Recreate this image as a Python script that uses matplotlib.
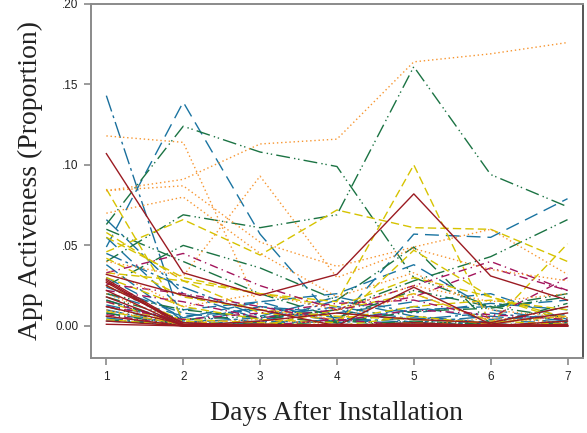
import matplotlib
matplotlib.use("Agg")
import matplotlib.pyplot as plt

days = [1, 2, 3, 4, 5, 6, 7]
y_ticks = [0.00, 0.05, 0.10, 0.15, 0.20]
y_tick_labels = ["0.00", ".05", ".10", ".15", ".20"]

# per-user daily activeness, grouped by line style
red_users = [
    [0.107, 0.033, 0.019, 0.032, 0.082, 0.031, 0.016],
    [0.032, 0.019, 0.010, 0.000, 0.024, 0.001, 0.008],
    [0.028, 0.000, 0.003, 0.008, 0.004, 0.002, 0.012],
    [0.029, 0.001, 0.000, 0.000, 0.001, 0.000, 0.000],
    [0.027, 0.000, 0.001, 0.000, 0.000, 0.000, 0.003],
    [0.025, 0.002, 0.000, 0.001, 0.000, 0.000, 0.000],
    [0.022, 0.000, 0.000, 0.000, 0.000, 0.001, 0.000],
    [0.018, 0.000, 0.000, 0.000, 0.002, 0.000, 0.000],
    [0.012, 0.001, 0.000, 0.000, 0.000, 0.000, 0.000],
    [0.006, 0.000, 0.000, 0.000, 0.000, 0.000, 0.000],
    [0.003, 0.000, 0.000, 0.000, 0.000, 0.000, 0.001],
    [0.001, 0.000, 0.001, 0.000, 0.000, 0.000, 0.000],
]

orange_users = [
    [0.084, 0.091, 0.113, 0.116, 0.164, 0.169, 0.176],
    [0.118, 0.114, 0.010, 0.004, 0.020, 0.003, 0.006],
    [0.084, 0.087, 0.052, 0.037, 0.049, 0.060, 0.032],
    [0.040, 0.031, 0.093, 0.030, 0.048, 0.035, 0.028],
    [0.070, 0.080, 0.045, 0.018, 0.033, 0.010, 0.005],
    [0.035, 0.012, 0.020, 0.010, 0.025, 0.015, 0.020],
    [0.020, 0.002, 0.004, 0.001, 0.000, 0.005, 0.002],
    [0.010, 0.000, 0.000, 0.000, 0.001, 0.000, 0.000],
    [0.006, 0.000, 0.000, 0.000, 0.000, 0.000, 0.000],
]

green_users = [
    [0.063, 0.124, 0.108, 0.099, 0.030, 0.012, 0.005],
    [0.040, 0.069, 0.061, 0.069, 0.161, 0.094, 0.074],
    [0.025, 0.050, 0.036, 0.016, 0.049, 0.001, 0.014],
    [0.020, 0.010, 0.005, 0.010, 0.028, 0.043, 0.066],
    [0.060, 0.040, 0.020, 0.005, 0.022, 0.012, 0.020],
    [0.018, 0.004, 0.006, 0.002, 0.009, 0.011, 0.018],
    [0.016, 0.001, 0.000, 0.003, 0.001, 0.000, 0.002],
    [0.012, 0.000, 0.002, 0.000, 0.003, 0.001, 0.001],
    [0.008, 0.000, 0.000, 0.000, 0.000, 0.000, 0.000],
    [0.004, 0.000, 0.000, 0.001, 0.000, 0.000, 0.000],
]

blue_dash_users = [
    [0.049, 0.139, 0.057, 0.002, 0.057, 0.055, 0.079],
    [0.030, 0.005, 0.015, 0.020, 0.038, 0.010, 0.003],
    [0.055, 0.010, 0.015, 0.002, 0.012, 0.004, 0.007],
    [0.038, 0.003, 0.012, 0.008, 0.015, 0.020, 0.004],
    [0.020, 0.006, 0.010, 0.003, 0.010, 0.012, 0.016],
    [0.013, 0.003, 0.001, 0.004, 0.001, 0.003, 0.002],
    [0.008, 0.001, 0.000, 0.001, 0.000, 0.000, 0.001],
    [0.003, 0.001, 0.000, 0.000, 0.000, 0.000, 0.000],
]

blue_dashdot_users = [
    [0.143, 0.000, 0.012, 0.005, 0.002, 0.001, 0.000],
    [0.066, 0.020, 0.004, 0.010, 0.002, 0.006, 0.002],
    [0.045, 0.024, 0.006, 0.018, 0.008, 0.014, 0.010],
    [0.024, 0.008, 0.002, 0.016, 0.006, 0.002, 0.012],
    [0.016, 0.002, 0.005, 0.012, 0.004, 0.008, 0.003],
    [0.010, 0.000, 0.003, 0.002, 0.005, 0.001, 0.000],
    [0.005, 0.000, 0.001, 0.000, 0.002, 0.001, 0.000],
]

yellow_users = [
    [0.046, 0.066, 0.044, 0.072, 0.061, 0.060, 0.040],
    [0.085, 0.004, 0.002, 0.000, 0.006, 0.001, 0.000],
    [0.055, 0.030, 0.020, 0.015, 0.100, 0.001, 0.051],
    [0.033, 0.028, 0.020, 0.012, 0.030, 0.018, 0.005],
    [0.030, 0.012, 0.004, 0.002, 0.047, 0.018, 0.003],
    [0.058, 0.028, 0.008, 0.004, 0.012, 0.016, 0.010],
    [0.042, 0.018, 0.010, 0.006, 0.004, 0.002, 0.006],
    [0.025, 0.003, 0.000, 0.010, 0.020, 0.003, 0.001],
    [0.015, 0.000, 0.001, 0.000, 0.002, 0.000, 0.000],
    [0.009, 0.001, 0.000, 0.000, 0.000, 0.000, 0.000],
    [0.004, 0.000, 0.000, 0.000, 0.000, 0.000, 0.001],
]

magenta_users = [
    [0.033, 0.045, 0.025, 0.010, 0.018, 0.036, 0.022],
    [0.022, 0.015, 0.005, 0.010, 0.025, 0.040, 0.022],
    [0.012, 0.004, 0.008, 0.014, 0.016, 0.005, 0.030],
    [0.026, 0.020, 0.012, 0.003, 0.010, 0.007, 0.004],
    [0.015, 0.002, 0.000, 0.004, 0.000, 0.001, 0.000],
    [0.007, 0.000, 0.001, 0.000, 0.000, 0.000, 0.000],
]

groups = [
    (blue_dash_users, "#1a74a1", (0, (10, 5))),
    (blue_dashdot_users, "#1a6f9c", (0, (12, 3, 2, 3))),
    (green_users, "#1b7343", (0, (10, 3, 1, 2, 1, 3))),
    (yellow_users, "#d6c300", (0, (6, 3))),
    (magenta_users, "#a3145c", (0, (6, 3, 1, 3))),
    (orange_users, "#f7952f", (0, (1, 2))),
    (red_users, "#9b1b22", "-"),
]

fig = plt.figure(figsize=(5.87, 4.33), dpi=100)
ax = fig.add_axes([0.155, 0.173, 0.838, 0.818])

for rows, color, style in groups:
    for row in rows:
        ax.plot(days, row, color=color, linestyle=style, linewidth=1.0)

ax.set_xlim(0.8, 7.2)
ax.set_ylim(-0.02, 0.20)
ax.set_xticks(days)
ax.set_xticklabels([str(d) for d in days])
ax.set_yticks(y_ticks)
ax.set_yticklabels(y_tick_labels)

for side in ["left", "bottom", "top"]:
    ax.spines[side].set_color("#8a8a8a")
    ax.spines[side].set_linewidth(1.4)
ax.spines["right"].set_color("#555555")
ax.spines["right"].set_linewidth(1.4)

ax.tick_params(axis="both", direction="out", length=5, width=1.2,
               color="#8a8a8a", labelsize=8.5, labelcolor="#222222", pad=4)
for lab in ax.get_xticklabels() + ax.get_yticklabels():
    lab.set_family("Liberation Sans")

ax.set_xlabel("Days After Installation", family="Liberation Serif",
              fontsize=20, color="#222222", labelpad=13)
ax.set_ylabel("App Activeness (Proportion)", family="Liberation Serif",
              fontsize=20, color="#222222", labelpad=9)

fig.savefig("out.png", dpi=100)
